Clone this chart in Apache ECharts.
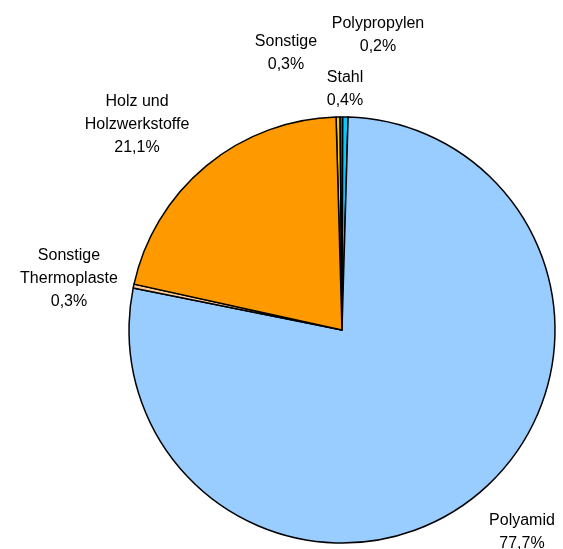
<!DOCTYPE html>
<html>
<head>
<meta charset="utf-8">
<script src="https://cdn.jsdelivr.net/npm/echarts@6/dist/echarts.min.js"></script>
<style>html,body{margin:0;padding:0;background:#fff;}#c{width:563px;height:549px;}</style>
</head>
<body>
<div id="c"></div>
<script>
var categories = ['Sonstige', 'Polypropylen', 'Stahl', 'Polyamid', 'Sonstige\nThermoplaste', 'Holz und\nHolzwerkstoffe'];
var values = [0.3, 0.2, 0.4, 77.7, 0.3, 21.1];
var colors = ['#FFCC00', '#008080', '#00CCFF', '#99CCFF', '#FFCC99', '#FF9900'];
var labelPos = [[286, 53], [378, 35], [345, 89], [522, 532], [69, 279], [137, 125]];

var chart = echarts.init(document.getElementById('c'));
chart.setOption({
  backgroundColor: '#ffffff',
  animation: false,
  series: [{
    type: 'pie',
    center: [342, 330],
    radius: 213,
    startAngle: 91.6,
    clockwise: true,
    avoidLabelOverlap: false,
    minAngle: 0,
    data: categories.map(function (c, i) {
      return { name: c, value: values[i], itemStyle: { color: colors[i] } };
    }),
    itemStyle: { borderColor: '#000', borderWidth: 1.5 },
    label: {
      show: true,
      position: 'outside',
      color: '#000',
      fontFamily: 'Liberation Sans, Arial, sans-serif',
      fontSize: 16,
      lineHeight: 23,
      align: 'center',
      formatter: function (p) {
        return p.name + '\n' + p.value.toFixed(1).replace('.', ',') + '%';
      }
    },
    labelLine: { show: false },
    labelLayout: function (params) {
      var p = labelPos[params.dataIndex];
      return { x: p[0], y: p[1], align: 'center', verticalAlign: 'middle' };
    },
    emphasis: { disabled: true }
  }]
});
</script>
</body>
</html>
